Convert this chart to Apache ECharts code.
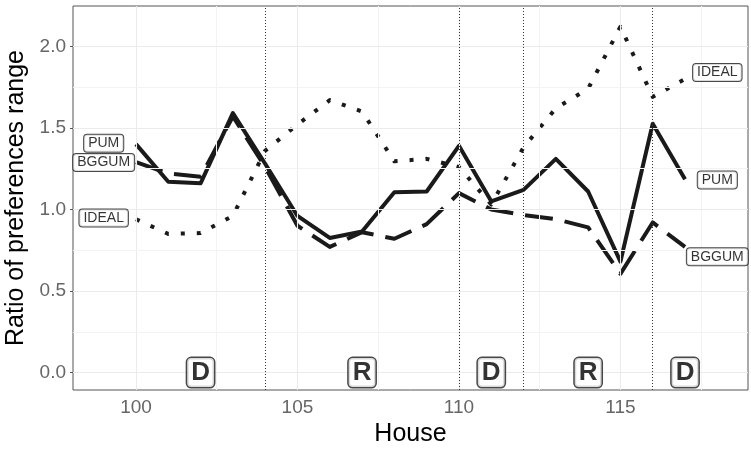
<!DOCTYPE html>
<html>
<head>
<meta charset="utf-8">
<script src="https://cdn.jsdelivr.net/npm/echarts@6/dist/echarts.min.js"></script>
<style>html,body{margin:0;padding:0;background:#fff}#c{width:751px;height:450px}</style>
</head>
<body>
<div id="c"></div>
<script>
// ---- data ----
const houses = [100,101,102,103,104,105,106,107,108,109,110,111,112,113,114,115,116,117];
const pum    = [1.40,1.17,1.16,1.59,1.28,0.96,0.825,0.865,1.105,1.11,1.39,1.05,1.12,1.31,1.11,0.68,1.525,1.185];
const bggum  = [1.29,1.22,1.20,1.57,1.26,0.90,0.77,0.86,0.82,0.91,1.10,1.00,0.965,0.94,0.89,0.605,0.92,0.77];
const ideal  = [0.94,0.85,0.855,0.96,1.36,1.52,1.67,1.60,1.295,1.31,1.26,1.03,1.38,1.62,1.74,2.12,1.69,1.80];

const xTicks = [100,105,110,115];
const xMinor = [102.5,107.5,112.5,117.5];
const yTicks = [0,0.5,1.0,1.5,2.0];
const yMinor = [0.25,0.75,1.25,1.75];
const breaks = [104,110,112,116];

const partyX = [102,107,111,114,117];
const partyY = [0,0,0,0,0];
const partyLabel = ['D','R','D','R','D'];

const leftLabelNames = ['PUM','BGGUM','IDEAL'];
const leftLabelX = [99,99,99];
const leftLabelY = [1.405,1.288,0.947];
const rightLabelNames = ['IDEAL','PUM','BGGUM'];
const rightLabelX = [118,118,118];
const rightLabelY = [1.84,1.18,0.71];

// ---- chart ----
const FONT = '"Liberation Sans", Arial, sans-serif';
const zip = (xs, ys) => xs.map((x,i) => [x, ys[i]]);
const chart = echarts.init(document.getElementById('c'), null, {renderer:'canvas'});

const gridLines = []
  .concat(xTicks.map(v => ({xAxis:v, lineStyle:{color:'#ebebeb', width:1.1, type:'solid'}})))
  .concat(xMinor.map(v => ({xAxis:v, lineStyle:{color:'#f3f3f3', width:1, type:'solid'}})))
  .concat(yTicks.map(v => ({yAxis:v, lineStyle:{color:'#ebebeb', width:1.1, type:'solid'}})))
  .concat(yMinor.map(v => ({yAxis:v, lineStyle:{color:'#f3f3f3', width:1, type:'solid'}})));

const boxLabel = (size, bold, pad, bw) => ({
  show:true, position:'inside', formatter: p => p.data[2],
  fontFamily: FONT, fontSize: size, fontWeight: bold ? 'bold' : 'normal',
  color:'#000', backgroundColor:'#fff', borderColor:'#1a1a1a', borderWidth:bw,
  borderRadius: bold ? 4 : 3, padding: pad, lineHeight: size
});

const option = {
  animation:false,
  backgroundColor:'#fff',
  grid:{left:73, right:3, top:6, bottom:60, containLabel:false, outerBoundsMode:'none',
        show:true, borderColor:'#555', borderWidth:1, backgroundColor:'transparent'},
  xAxis:{
    type:'value', min:98.05, max:118.95,
    name:'House', nameLocation:'middle', nameGap:28,
    nameTextStyle:{fontFamily:FONT, fontSize:25, color:'#000', lineHeight:25},
    axisLine:{show:false},
    axisTick:{show:true, customValues:xTicks, length:3, lineStyle:{color:'#555'}},
    axisLabel:{customValues:xTicks, fontFamily:FONT, fontSize:19, color:'#666', margin:8},
    splitLine:{show:false}
  },
  yAxis:{
    type:'value', min:-0.107, max:2.247,
    name:'Ratio of preferences range', nameLocation:'middle', nameGap:44, nameRotate:90,
    nameTextStyle:{fontFamily:FONT, fontSize:25, color:'#000', lineHeight:25},
    axisLine:{show:false},
    axisTick:{show:true, customValues:yTicks, length:3, lineStyle:{color:'#555'}},
    axisLabel:{customValues:yTicks, fontFamily:FONT, fontSize:19, color:'#666', margin:7, formatter:v => v.toFixed(1)},
    splitLine:{show:false}
  },
  series:[
    {type:'line', data:[[100,0]], symbol:'none', lineStyle:{opacity:0}, silent:true, z:0,
     markLine:{silent:true, symbol:'none', label:{show:false}, animation:false, data:gridLines}},
    {type:'line', data:[[100,0]], symbol:'none', lineStyle:{opacity:0}, silent:true, z:1,
     markLine:{silent:true, symbol:'none', label:{show:false}, animation:false,
       data: breaks.map(v => ({xAxis:v, lineStyle:{color:'#333', width:1, type:[1,2]}}))}},
    {name:'IDEAL', type:'line', data:zip(houses, ideal), symbol:'none', z:3,
     lineStyle:{color:'#1a1a1a', width:4, type:[4,12], cap:'butt', join:'round'}},
    {name:'BGGUM', type:'line', data:zip(houses, bggum), symbol:'none', z:3,
     lineStyle:{color:'#1a1a1a', width:4, type:[28,12], cap:'butt', join:'round'}},
    {name:'PUM', type:'line', data:zip(houses, pum), symbol:'none', z:4,
     lineStyle:{color:'#1a1a1a', width:4, type:'solid', cap:'butt', join:'round'}},
    {type:'scatter', z:6, symbolSize:1, itemStyle:{color:'transparent'}, silent:true,
     data: leftLabelNames.map((n,i) => [leftLabelX[i], leftLabelY[i], n]),
     label: boxLabel(14, false, [2,4,1,4], 1)},
    {type:'scatter', z:6, symbolSize:1, itemStyle:{color:'transparent'}, silent:true,
     data: rightLabelNames.map((n,i) => [rightLabelX[i], rightLabelY[i], n]),
     label: boxLabel(14, false, [2,4,1,4], 1)},
    {type:'scatter', z:6, symbolSize:1, itemStyle:{color:'transparent'}, silent:true,
     data: partyLabel.map((n,i) => [partyX[i], partyY[i], n]),
     label: boxLabel(26, true, [2,4,1,4], 1.5)}
  ]
};
chart.setOption(option);
</script>
</body>
</html>
